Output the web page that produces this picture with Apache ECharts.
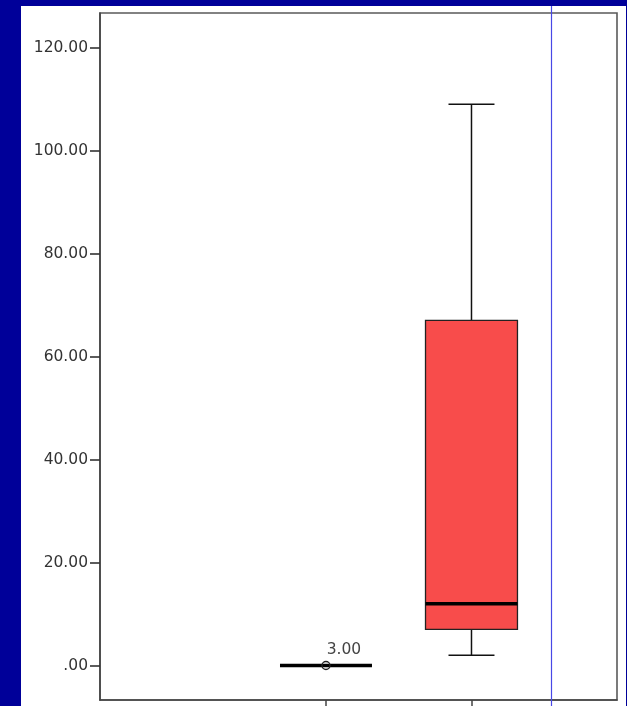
<!DOCTYPE html>
<html>
<head>
<meta charset="utf-8">
<script src="https://cdn.jsdelivr.net/npm/echarts@6/dist/echarts.min.js"></script>
<style>
html,body{margin:0;padding:0;background:#000099;}
#chart{width:627px;height:706px;}
</style>
</head>
<body>
<div id="chart"></div>
<script>
// Data
const groupPositions = [1, 2];
// [min, q1, median, q3, max]
const boxStats = [
  [0, 0, 0, 0, 0],
  [2, 7, 12, 67, 109]
];
const outlierGroup = [0];
const outlierValue = [0];
const outlierLabel = ['3.00'];
const yTickValues = [0, 20, 40, 60, 80, 100, 120];

const boxSource = boxStats.map((s, i) => [groupPositions[i]].concat(s));
const outlierSource = outlierGroup.map((g, i) => ({
  value: [groupPositions[g], outlierValue[i]],
  labelText: outlierLabel[i]
}));

const chart = echarts.init(document.getElementById('chart'), null, {renderer: 'canvas'});

function renderBox(params, api) {
  const x = api.value(0);
  const mn = api.value(1), q1 = api.value(2), md = api.value(3), q3 = api.value(4), mx = api.value(5);
  const bw = api.size([1, 0])[0] * 0.632;
  const cw = bw * 0.5;
  const pMin = api.coord([x, mn]);
  const pQ1 = api.coord([x, q1]);
  const pMd = api.coord([x, md]);
  const pQ3 = api.coord([x, q3]);
  const pMx = api.coord([x, mx]);
  const cx = pMd[0];
  const lineStyle = {stroke: '#111', lineWidth: 1.5};
  return {
    type: 'group',
    children: [
      {type: 'line', shape: {x1: cx, y1: pMin[1], x2: cx, y2: pQ1[1]}, style: lineStyle},
      {type: 'line', shape: {x1: cx, y1: pQ3[1], x2: cx, y2: pMx[1]}, style: lineStyle},
      {type: 'line', shape: {x1: cx - cw / 2, y1: pMin[1], x2: cx + cw / 2, y2: pMin[1]}, style: lineStyle},
      {type: 'line', shape: {x1: cx - cw / 2, y1: pMx[1], x2: cx + cw / 2, y2: pMx[1]}, style: lineStyle},
      {type: 'rect', shape: {x: cx - bw / 2, y: pQ3[1], width: bw, height: pQ1[1] - pQ3[1]},
        style: {fill: '#f84c4b', stroke: '#222', lineWidth: 1.3}},
      {type: 'line', shape: {x1: cx - bw / 2, y1: pMd[1], x2: cx + bw / 2, y2: pMd[1]},
        style: {stroke: '#000', lineWidth: 3.4}}
    ]
  };
}

const option = {
  backgroundColor: '#000099',
  animation: false,
  graphic: [
    {type: 'rect', z: -10, shape: {x: 21, y: 6, width: 605, height: 700}, style: {fill: '#ffffff'}},
    {type: 'line', z: 100, shape: {x1: 551.5, y1: 6, x2: 551.5, y2: 706}, style: {stroke: '#4848e6', lineWidth: 1.2}}
  ],
  grid: {
    left: 100, top: 13, width: 517, height: 687,
    show: true, borderColor: '#5a5a5a', borderWidth: 1.6, backgroundColor: 'transparent'
  },
  xAxis: {
    type: 'value',
    min: -0.553, max: 3,
    splitLine: {show: false},
    axisLine: {show: true, onZero: false, lineStyle: {color: '#444', width: 1.6}},
    axisTick: {show: true, length: 8, customValues: groupPositions, lineStyle: {color: '#444', width: 1.5}},
    axisLabel: {show: false}
  },
  yAxis: {
    type: 'value',
    min: -6.7, max: 126.7,
    splitLine: {show: false},
    axisLine: {show: true, onZero: false, lineStyle: {color: '#444', width: 1.6}},
    axisTick: {show: true, length: 10, customValues: yTickValues, lineStyle: {color: '#333', width: 1.6}},
    axisLabel: {
      customValues: yTickValues,
      margin: 12,
      color: '#333',
      fontFamily: 'DejaVu Sans',
      fontSize: 15.5,
      formatter: v => v === 0 ? '.00' : v.toFixed(2)
    }
  },
  series: [
    {
      type: 'custom',
      renderItem: renderBox,
      data: boxSource,
      encode: {x: 0, y: [1, 2, 3, 4, 5]},
      z: 2
    },
    {
      type: 'scatter',
      data: outlierSource,
      symbol: 'circle',
      symbolSize: 8,
      itemStyle: {color: 'rgba(0,0,0,0)', borderColor: '#222', borderWidth: 1.4, opacity: 1},
      label: {
        show: true,
        position: 'top',
        distance: 3,
        offset: [18, 0],
        color: '#444',
        fontFamily: 'DejaVu Sans',
        fontSize: 15.5,
        formatter: p => p.data.labelText
      },
      z: 5
    }
  ]
};
chart.setOption(option);
</script>
</body>
</html>
